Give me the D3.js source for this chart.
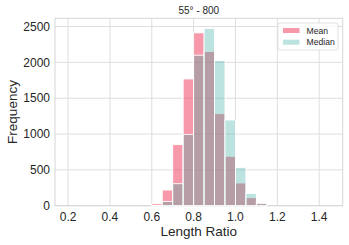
<!DOCTYPE html>
<html>
<head>
<meta charset="utf-8">
<script src="https://cdn.jsdelivr.net/npm/d3@7"></script>
<style>
  body { margin: 0; background: #fff; }
  svg { font-family: "Liberation Sans", Arial, sans-serif; }
</style>
</head>
<body>
<div id="chart"></div>
<script>
// bin left edges (width 0.05) from 0.2 to 1.45
var binStart = d3.range(25).map(function(i) { return +(0.2 + i * 0.05).toFixed(2); });
var binWidth = 0.05;
// counts per bin
var meanCounts   = [0,0,0,0,0,0,0,0, 30, 219, 852, 1769, 2412, 2151, 1285, 689, 317, 112, 40, 0,0,0,0,0,0];
var medianCounts = [0,0,0,0,0,0,0,0, 5,  60,  307, 996,  2100, 2472, 2025, 1196, 535, 172, 32, 0,0,0,0,0,0];
var xTicks = [0.2, 0.4, 0.6, 0.8, 1.0, 1.2, 1.4];
var yTicks = [0, 500, 1000, 1500, 2000, 2500];
var seriesNames = ["Mean", "Median"];

var width = 349, height = 245;
var margin = {top: 18.3, right: 6.3, bottom: 39.3, left: 55};
var iw = width - margin.left - margin.right,
    ih = height - margin.top - margin.bottom;

var svg = d3.select("#chart").append("svg")
    .attr("width", width)
    .attr("height", height);

var g = svg.append("g")
    .attr("transform", "translate(" + margin.left + "," + margin.top + ")");

var x = d3.scaleLinear().domain([0.1375, 1.5125]).range([0, iw]);
var y = d3.scaleLinear().domain([0, 2615]).range([ih, 0]);

// grid
g.append("g").selectAll("line").data(xTicks).enter().append("line")
    .attr("x1", function(d) { return x(d); }).attr("x2", function(d) { return x(d); })
    .attr("y1", 0).attr("y2", ih)
    .style("stroke", "#dedede").style("stroke-width", 1);
g.append("g").selectAll("line").data(yTicks).enter().append("line")
    .attr("y1", function(d) { return y(d); }).attr("y2", function(d) { return y(d); })
    .attr("x1", 0).attr("x2", iw)
    .style("stroke", "#dedede").style("stroke-width", 1);

// frame
g.append("rect").attr("width", iw).attr("height", ih)
    .style("fill", "none").style("stroke", "#d6d6d6").style("stroke-width", 1);

// bars
function drawBars(counts, color, alpha) {
  g.append("g").selectAll("rect").data(counts).enter().append("rect")
      .attr("x", function(d, i) { return x(binStart[i]); })
      .attr("width", function(d, i) { return x(binStart[i] + binWidth) - x(binStart[i]); })
      .attr("y", function(d) { return y(d); })
      .attr("height", function(d) { return ih - y(d); })
      .style("fill", color).style("fill-opacity", alpha)
      .style("stroke", "#fff").style("stroke-width", 0.9);
}
drawBars(meanCounts, "rgb(239,51,85)", 0.5);
drawBars(medianCounts, "rgb(50,168,158)", 0.32);

// x tick labels
g.append("g").selectAll("text").data(xTicks).enter().append("text")
    .attr("x", function(d) { return x(d); })
    .attr("y", ih + 15)
    .attr("text-anchor", "middle")
    .style("font-size", "12px").style("fill", "#262626")
    .text(function(d) { return d.toFixed(1); });

// y tick labels
g.append("g").selectAll("text").data(yTicks).enter().append("text")
    .attr("x", -5)
    .attr("y", function(d) { return y(d); })
    .attr("dy", "0.35em")
    .attr("text-anchor", "end")
    .style("font-size", "12px").style("fill", "#262626")
    .text(function(d) { return d; });

// axis labels and title
svg.append("text")
    .attr("x", margin.left + iw / 2).attr("y", 236)
    .attr("text-anchor", "middle")
    .style("font-size", "13.5px").style("fill", "#262626")
    .text("Length Ratio");
svg.append("text")
    .attr("transform", "translate(17," + (margin.top + ih / 2) + ") rotate(-90)")
    .attr("text-anchor", "middle")
    .style("font-size", "13.5px").style("fill", "#262626")
    .text("Frequency");
svg.append("text")
    .attr("x", margin.left + iw / 2).attr("y", 13.5)
    .attr("text-anchor", "middle")
    .style("font-size", "10px").style("fill", "#262626")
    .text("55° - 800");

// legend
var leg = svg.append("g").attr("transform", "translate(278,23)");
leg.append("rect").attr("width", 60).attr("height", 27).attr("rx", 2)
    .style("fill", "#fff").style("fill-opacity", 0.8)
    .style("stroke", "#d9d9d9").style("stroke-width", 0.8);
var legColors = [["rgb(239,51,85)", 0.5], ["rgb(50,168,158)", 0.32]];
seriesNames.forEach(function(name, i) {
  leg.append("rect")
      .attr("x", 5).attr("y", 5 + i * 11.7).attr("width", 16.5).attr("height", 5)
      .style("fill", legColors[i][0]).style("fill-opacity", legColors[i][1]);
  leg.append("text")
      .attr("x", 28.5).attr("y", 7.5 + i * 11.7).attr("dy", "0.35em")
      .style("font-size", "8.6px").style("fill", "#262626")
      .text(name);
});
</script>
</body>
</html>
